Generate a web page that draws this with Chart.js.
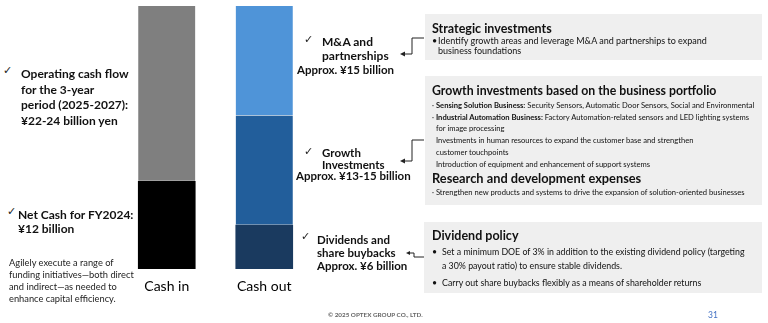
<!DOCTYPE html>
<html>
<head>
<meta charset="utf-8">
<script src="https://cdn.jsdelivr.net/npm/chart.js@4.4.1/dist/chart.umd.min.js"></script>
<style>
  html, body { margin: 0; padding: 0; background: #fff; }
  body { width: 768px; height: 323px; position: relative; overflow: hidden; font-family: Lato, "Noto Sans", sans-serif; color: #111; }
  .abs { position: absolute; white-space: nowrap; }
  .b { font-weight: bold; }
  .chk { position: absolute; font-family: "DejaVu Sans", sans-serif; font-size: 11px; line-height: 12px; color: #222; }
  .box { position: absolute; background: #efefef; }
  #chartBox { position: absolute; left: 118px; top: 0; width: 195px; height: 323px; }
</style>
</head>
<body>

<div id="chartBox"><canvas id="cashChart"></canvas></div>

<!-- left notes -->
<div class="chk" style="left:3px; top:65px;">✓</div>
<div class="abs b" style="left:21px; top:66px; font-size:12px; line-height:15.5px;">Operating cash flow<br>for the 3-year<br>period (2025-2027):<br>¥22-24 billion yen</div>

<div class="chk" style="left:7px; top:206px;">✓</div>
<div class="abs b" style="left:18px; top:208px; font-size:12px; line-height:14px;">Net Cash for FY2024:<br>¥12 billion</div>

<div class="abs" style="left:9px; top:257px; font-size:9.3px; line-height:12px; color:#222;">Agilely execute a range of<br>funding initiatives—both direct<br>and indirect—as needed to<br>enhance capital efficiency.</div>

<!-- middle notes -->
<div class="chk" style="left:304px; top:34px;">✓</div>
<div class="abs b" style="left:322px; top:35px; font-size:12px; line-height:14px;">M&amp;A and<br>partnerships</div>
<div class="abs b" style="left:297px; top:63px; font-size:11.5px; line-height:14px;">Approx. ¥15 billion</div>

<div class="chk" style="left:304px; top:146px;">✓</div>
<div class="abs b" style="left:322px; top:147px; font-size:11.5px; line-height:11.5px;">Growth<br>Investments</div>
<div class="abs b" style="left:296px; top:170px; font-size:11.5px; line-height:12px;">Approx. ¥13-15 billion</div>

<div class="chk" style="left:301px; top:231px;">✓</div>
<div class="abs b" style="left:317px; top:233px; font-size:11.5px; line-height:13px;">Dividends and<br>share buybacks<br>Approx. ¥6 billion</div>

<!-- connectors -->
<svg class="abs" style="left:0; top:0;" width="768" height="323">
  <g fill="none" stroke="#222" stroke-width="1">
    <polyline points="404,54 412,54 412,38 424,38"/>
    <polyline points="404,161 412,161 412,140 424,140"/>
    <polyline points="410,253 414,253 414,257 424,257"/>
  </g>
  <g fill="#222">
    <polygon points="400,54 405,51.5 405,56.5"/>
    <polygon points="400,161 405,158.5 405,163.5"/>
    <polygon points="406,253 410,251 410,255"/>
  </g>
</svg>

<!-- right boxes -->
<div class="box" style="left:425px; top:14px; width:337px; height:46px;"></div>
<div class="abs b" style="left:432px; top:21px; font-size:12.5px; line-height:16px;">Strategic investments</div>
<div class="abs" style="left:432px; top:36px; font-size:9px; line-height:10px;">•</div>
<div class="abs" style="left:438px; top:36px; font-size:9px; line-height:10px;">Identify growth areas and leverage M&amp;A and partnerships to expand<br>business foundations</div>

<div class="box" style="left:425px; top:76px; width:337px; height:129px;"></div>
<div class="abs b" style="left:432px; top:83px; font-size:12.3px; line-height:16px;">Growth investments based on the business portfolio</div>
<div class="abs" style="left:432px; top:100px; font-size:7.6px; line-height:11.5px;">
  · <b>Sensing Solution Business:</b> Security Sensors, Automatic Door Sensors, Social and Environmental<br>
  · <b>Industrial Automation Business:</b> Factory Automation-related sensors and LED lighting systems</div>
<div class="abs" style="left:436px; top:122px; font-size:7.6px; line-height:12px;">for image processing<br>Investments in human resources to expand the customer base and strengthen<br>customer touchpoints<br>Introduction of equipment and enhancement of support systems</div>
<div class="abs b" style="left:432px; top:170px; font-size:12.8px; line-height:16px;">Research and development expenses</div>
<div class="abs" style="left:432px; top:187px; font-size:7.6px; line-height:11px;">· Strengthen new products and systems to drive the expansion of solution-oriented businesses</div>

<div class="box" style="left:424px; top:222px; width:338px; height:71px;"></div>
<div class="abs b" style="left:432px; top:228px; font-size:12.5px; line-height:16px;">Dividend policy</div>
<div class="abs" style="left:432px; top:245px; font-size:8.8px; line-height:14px;">•</div>
<div class="abs" style="left:442px; top:245px; font-size:8.8px; line-height:14px;">Set a minimum DOE of 3% in addition to the existing dividend policy (targeting<br>a 30% payout ratio) to ensure stable dividends.</div>
<div class="abs" style="left:432px; top:276px; font-size:8.8px; line-height:14px;">•</div>
<div class="abs" style="left:442px; top:276px; font-size:8.8px; line-height:14px;">Carry out share buybacks flexibly as a means of shareholder returns</div>

<!-- footer -->
<div class="abs b" style="left:328px; top:311px; font-size:6.3px; line-height:8px; color:#666;">© 2025 OPTEX GROUP CO., LTD.</div>
<div class="abs" style="left:708px; top:310px; font-size:8.5px; line-height:10px; color:#4472c4;">31</div>

<script>
// data (billion yen)
const categories = ["Cash in", "Cash out"];
const netCash = [12, null];
const operatingCashFlow = [24, null];
const dividendsBuybacks = [null, 6];
const growthInvestments = [null, 15];
const maPartnerships = [null, 15];

const sep = "rgba(255,255,255,0.5)";

new Chart(document.getElementById("cashChart"), {
    type: "bar",
    data: {
        labels: categories,
        datasets: [
            { label: "Net Cash", data: netCash, backgroundColor: "#000000" },
            { label: "Operating cash flow", data: operatingCashFlow, backgroundColor: "#7f7f7f",
              borderColor: sep, borderWidth: { top: 0, bottom: 1, left: 0, right: 0 }, borderSkipped: false },
            { label: "Dividends and share buybacks", data: dividendsBuybacks, backgroundColor: "#1a3a5f" },
            { label: "Growth investments", data: growthInvestments, backgroundColor: "#225e9b",
              borderColor: sep, borderWidth: { top: 0, bottom: 1, left: 0, right: 0 }, borderSkipped: false },
            { label: "M&A and partnerships", data: maPartnerships, backgroundColor: "#4f94d8",
              borderColor: sep, borderWidth: { top: 0, bottom: 1, left: 0, right: 0 }, borderSkipped: false }
        ]
    },
    options: {
        responsive: true,
        maintainAspectRatio: false,
        animation: false,
        layout: { padding: { top: 6, left: 0, right: 0, bottom: 0 } },
        datasets: { bar: { barThickness: 57 } },
        plugins: { legend: { display: false }, tooltip: { enabled: false } },
        scales: {
            x: {
                stacked: true,
                grid: { display: false, drawTicks: false },
                border: { display: false },
                ticks: { color: "#000", padding: 9, font: { family: "Lato", size: 14 } },
                afterFit: scale => { scale.height = 54; }
            },
            y: {
                stacked: true,
                display: false,
                min: 0,
                max: 36
            }
        }
    }
});
</script>
</body>
</html>
